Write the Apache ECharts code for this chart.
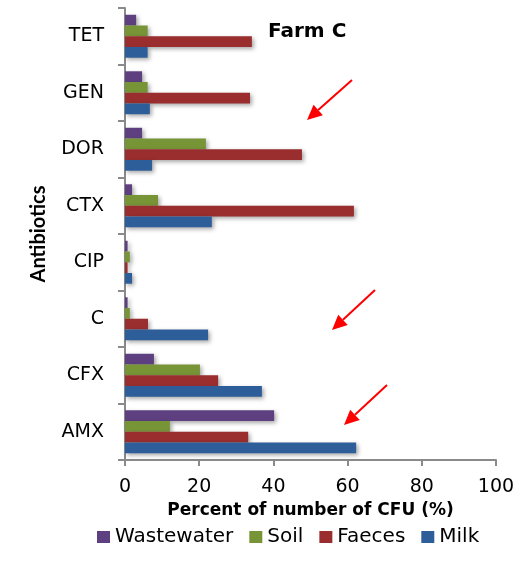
<!DOCTYPE html>
<html>
<head>
<meta charset="utf-8">
<script src="https://cdn.jsdelivr.net/npm/echarts@6/dist/echarts.min.js"></script>
<style>
  html, body { margin: 0; padding: 0; background: #fff; }
  #chart { width: 525px; height: 563px; }
</style>
</head>
<body>
<div id="chart"></div>
<script>
// Antibiotics, listed bottom-to-top along the category axis
const antibiotics = ['AMX', 'CFX', 'C', 'CIP', 'CTX', 'DOR', 'GEN', 'TET'];

// Percent of number of CFU (%) per sample source
const wastewater = [40.2, 7.8, 0.7, 0.7, 1.9, 4.6, 4.6, 3.0];
const soil       = [12.1, 20.2, 1.3, 1.3, 8.9, 21.8, 6.1, 6.1];
const faeces     = [33.2, 25.1, 6.2, 0.7, 61.7, 47.7, 33.7, 34.2];
const milk       = [62.3, 36.9, 22.4, 1.9, 23.4, 7.3, 6.7, 6.1];

const xTicks = [0, 20, 40, 60, 80, 100];

const font = '"DejaVu Sans", sans-serif';
const axisGrey = '#8a8a8a';

const chart = echarts.init(document.getElementById('chart'), null, { renderer: 'canvas' });

function barSeries(name, data, color) {
  return {
    name: name,
    type: 'bar',
    data: data,
    barGap: '0%',
    barCategoryGap: '24%',
    itemStyle: {
      color: color,
      shadowColor: 'rgba(0,0,0,0.35)',
      shadowBlur: 4,
      shadowOffsetX: 2,
      shadowOffsetY: 2
    }
  };
}

// red arrow annotation: shaft plus triangular head, tip at (x2, y2)
function arrow(x1, y1, x2, y2) {
  const ang = Math.atan2(y2 - y1, x2 - x1);
  const len = 15, half = 7;
  const bx = x2 - len * Math.cos(ang), by = y2 - len * Math.sin(ang);
  const px = -Math.sin(ang) * half, py = Math.cos(ang) * half;
  return [
    { type: 'line', shape: { x1: x1, y1: y1, x2: bx, y2: by },
      style: { stroke: '#ff0000', lineWidth: 2 }, z: 100 },
    { type: 'polygon', shape: { points: [[x2, y2], [bx + px, by + py], [bx - px, by - py]] },
      style: { fill: '#ff0000' }, z: 100 }
  ];
}

const option = {
  animation: false,
  backgroundColor: '#ffffff',
  textStyle: { fontFamily: font },
  title: {
    text: 'Farm C',
    left: 263,
    top: 17,
    textStyle: { fontFamily: font, fontWeight: 'bold', fontSize: 20, color: '#000' }
  },
  legend: {
    data: ['Wastewater', 'Soil', 'Faeces', 'Milk'],
    left: 92,
    top: 522,
    itemWidth: 13,
    itemHeight: 12,
    itemGap: 16,
    icon: 'rect',
    textStyle: { fontFamily: font, fontSize: 20, color: '#000' }
  },
  grid: { left: 125, right: 29, top: 8, bottom: 103, containLabel: false },
  xAxis: {
    type: 'value',
    min: xTicks[0],
    max: xTicks[xTicks.length - 1],
    interval: 20,
    name: 'Percent of number of CFU (%)',
    nameLocation: 'middle',
    nameGap: 40,
    nameTextStyle: { fontFamily: font, fontWeight: 'bold', fontSize: 17, color: '#000' },
    axisLine: { show: true, lineStyle: { color: axisGrey, width: 2 } },
    axisTick: { show: true, length: 6, lineStyle: { color: axisGrey, width: 2 } },
    splitLine: { show: false },
    axisLabel: { fontFamily: font, fontSize: 19, color: '#000', margin: 18 }
  },
  yAxis: {
    type: 'category',
    data: antibiotics,
    name: 'Antibiotics',
    nameLocation: 'middle',
    nameGap: 76,
    nameRotate: 90,
    nameTextStyle: { fontFamily: 'Lato, sans-serif', fontWeight: 'bold', fontSize: 20, color: '#000' },
    axisLine: { show: true, lineStyle: { color: axisGrey, width: 2 } },
    axisTick: { show: true, length: 7, interval: 0, lineStyle: { color: axisGrey, width: 2 } },
    axisLabel: { fontFamily: font, fontSize: 19, color: '#000', margin: 21 }
  },
  series: [
    barSeries('Wastewater', wastewater, '#5e4080'),
    barSeries('Soil', soil, '#779436'),
    barSeries('Faeces', faeces, '#9a2e2e'),
    barSeries('Milk', milk, '#2e5e9a')
  ],
  graphic: [].concat(
    arrow(352, 80, 307, 120),
    arrow(375, 290, 332, 330),
    arrow(387, 385, 344, 425)
  )
};

chart.setOption(option);
</script>
</body>
</html>
